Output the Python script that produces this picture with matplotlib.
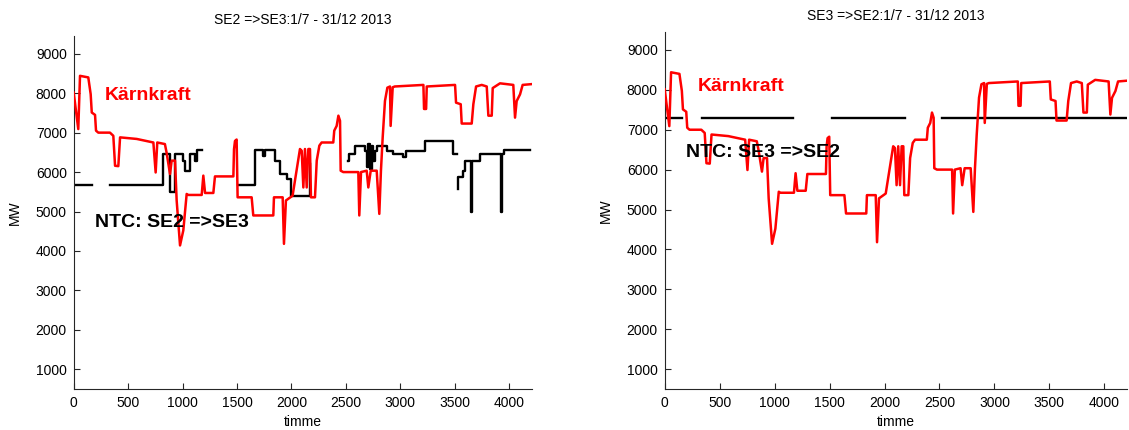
import numpy as np
import matplotlib
matplotlib.use("Agg")
import matplotlib.pyplot as plt

plt.rcParams['font.family'] = ['Liberation Sans', 'DejaVu Sans']

nan = np.nan

# Kärnkraft (nuclear production), hour vs MW (same series in both panels)
karn_h = [0, 42, 58, 134, 156, 166, 196, 205, 226, 333,
          364, 380, 410, 426, 579, 732, 753, 768, 838, 853,
          885, 900, 931, 946, 977, 1007, 1038, 1053, 1176, 1191,
          1207, 1283, 1298, 1467, 1473, 1482, 1497, 1506, 1635, 1650,
          1834, 1840, 1920, 1932, 1950, 2011, 2079, 2095, 2110, 2125,
          2141, 2156, 2171, 2180, 2217, 2233, 2257, 2278, 2385, 2394,
          2416, 2432, 2447, 2453, 2477, 2615, 2624, 2640, 2692, 2707,
          2729, 2784, 2808, 2823, 2839, 2860, 2882, 2906, 2912, 2931,
          2950, 3213, 3219, 3238, 3244, 3504, 3513, 3556, 3565, 3657,
          3672, 3697, 3749, 3795, 3810, 3841, 3850, 3917, 4039, 4055,
          4070, 4101, 4125, 4208]
karn_mw = [8015, 7090, 8440, 8400, 7975, 7510, 7450, 7050, 7000, 7000,
           6920, 6160, 6150, 6880, 6840, 6750, 5990, 6750, 6710, 6500,
           5950, 6290, 6290, 5280, 4140, 4520, 5445, 5420, 5420, 5910,
           5470, 5470, 5890, 5890, 6580, 6790, 6825, 5360, 5360, 4900,
           4900, 5360, 5360, 4180, 5280, 5400, 6585, 6540, 5610, 6585,
           5610, 6585, 6585, 5360, 5360, 6290, 6670, 6750, 6750, 7050,
           7170, 7430, 7300, 6035, 6000, 6000, 4900, 6000, 6035, 5610,
           6035, 6035, 4940, 6035, 6880, 7805, 8140, 8170, 7170, 8150,
           8170, 8210, 7600, 7600, 8170, 8210, 7760, 7720, 7230, 7230,
           7720, 8170, 8210, 8170, 7430, 7430, 8130, 8250, 8210, 7380,
           7800, 7970, 8210, 8230]

# NTC SE2 => SE3 (step values, NaN = no data)
ntc23_h = [0, 165, nan, 335, 823, 885, 931, 1007, 1022, 1069,
           1114, 1130, 1176, nan, 1513, 1666, 1743, 1760, 1850, 1900,
           1957, 1993, 2172, nan, 2523, 2532, 2584, 2676, 2692, 2707,
           2722, 2738, 2753, 2768, 2784, 2876, 2937, 3029, 3054, 3228,
           3489, 3519, nan, 3528, 3533, 3580, 3595, 3655, 3660, 3733,
           3930, 3935, 3954, 4193]
ntc23_mw = [5680, 5680, nan, 5680, 6470, 5485, 6470, 6290, 6035, 6450,
            6290, 6560, 6560, nan, 5680, 6560, 6410, 6560, 6290, 5950,
            5825, 5400, 6200, nan, 6290, 6455, 6670, 6540, 6120, 6710,
            6080, 6670, 6290, 6540, 6670, 6540, 6455, 6370, 6540, 6780,
            6455, 6455, nan, 5570, 5865, 6035, 6290, 4980, 6290, 6455,
            4980, 6455, 6560, 6560]

# NTC SE3 => SE2
ntc32_h = [0, 155, nan, 337, 1170, nan, 1518, 2187, nan, 2520, 4210]
ntc32_mw = [7300, 7300, nan, 7300, 7300, nan, 7300, 7300, nan, 7300, 7300]

titles = ["SE2 =>SE3:1/7 - 31/12 2013", "SE3 =>SE2:1/7 - 31/12 2013"]
ntc_labels = ["NTC: SE2 =>SE3", "NTC: SE3 =>SE2"]
yticks = [1000, 2000, 3000, 4000, 5000, 6000, 7000, 8000, 9000]
xticks = [0, 500, 1000, 1500, 2000, 2500, 3000, 3500, 4000]

W, H = 1129, 430
fig = plt.figure(figsize=(W / 100, H / 100), dpi=100)

def px_axes(l, r, t, b):
    return fig.add_axes([l / W, (H - b) / H, (r - l) / W, (b - t) / H])

ax1 = px_axes(73.7, 531.9, 36, 389)
ax2 = px_axes(664.7, 1127.4, 32, 389)

for ax, title, ntc_h, ntc_mw, lbl, kpos, npos in [
        (ax1, titles[0], ntc23_h, ntc23_mw, ntc_labels[0], (288, 7950), (197, 4730)),
        (ax2, titles[1], ntc32_h, ntc32_mw, ntc_labels[1], (303, 8080), (194, 6430))]:
    ax.plot(ntc_h, ntc_mw, color='black', lw=1.7, drawstyle='steps-post', zorder=2)
    ax.plot(karn_h, karn_mw, color='red', lw=1.8, zorder=3)
    ax.set_xlim(0, 4210)
    ax.set_ylim(500, 9450)
    ax.set_xticks(xticks)
    ax.set_yticks(yticks)
    ax.tick_params(direction='in', length=4, width=0.8, labelsize=10, pad=5, colors='#262626', labelcolor='black')
    for s in ['top', 'right']:
        ax.spines[s].set_visible(False)
    for s in ['left', 'bottom']:
        ax.spines[s].set_linewidth(0.8)
        ax.spines[s].set_color('#262626')
    ax.set_title(title, fontsize=10, pad=9)
    ax.set_xlabel("timme", fontsize=10, labelpad=4)
    ax.set_ylabel("MW", fontsize=10, labelpad=10)
    ax.text(kpos[0], kpos[1], "Kärnkraft", color='red', fontsize=14, fontweight='bold', va='center', ha='left', zorder=4)
    ax.text(npos[0], npos[1], lbl, color='black', fontsize=14, fontweight='bold', va='center', ha='left', zorder=4)

fig.savefig("out.png", dpi=100)
